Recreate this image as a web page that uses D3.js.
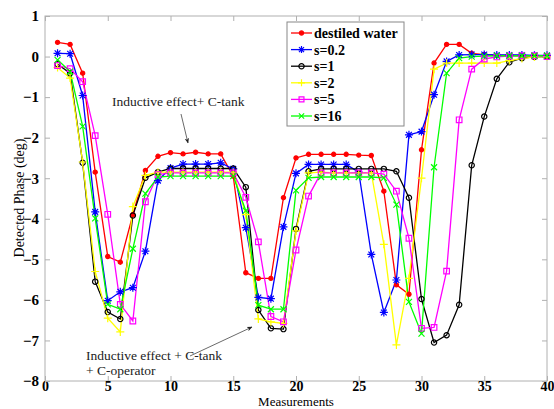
<!DOCTYPE html>
<html><head><meta charset="utf-8">
<script src="https://cdn.jsdelivr.net/npm/d3@7"></script>
<style>body{margin:0;background:#fff}svg{display:block}</style>
</head><body>
<svg id="c" width="554" height="409"></svg>
<script>
const measurements = d3.range(1, 41);
const seriesNames = ["destiled water","s=0.2","s=1","s=2","s=5","s=16"];
const red = [0.35,0.3,-0.41,-2.85,-4.93,-5.07,-3.9,-2.81,-2.46,-2.37,-2.40,-2.36,-2.40,-2.40,-2.95,-5.33,-5.47,-5.47,-3.48,-2.50,-2.41,-2.41,-2.41,-2.41,-2.43,-2.44,-3.32,-5.63,-5.86,-2.3,-0.16,0.30,0.30,0.08,0.05,0.03,0.03,0.02,0.02,0.0];
const blue = [0.08,0.07,-0.96,-3.83,-6.02,-5.80,-5.70,-4.80,-3.06,-2.75,-2.65,-2.65,-2.65,-2.62,-2.77,-4.22,-5.94,-5.97,-4.20,-2.88,-2.66,-2.66,-2.66,-2.66,-2.85,-4.88,-6.31,-5.51,-1.93,-1.85,-0.94,-0.12,0.04,0.05,0.05,0.04,0.04,0.04,0.03,0.03];
const black = [-0.19,-0.41,-2.62,-5.55,-6.30,-6.47,-3.92,-2.99,-2.85,-2.76,-2.76,-2.76,-2.76,-2.76,-2.76,-3.22,-6.25,-6.70,-6.72,-4.25,-2.83,-2.77,-2.77,-2.77,-2.77,-2.77,-2.77,-2.83,-3.48,-5.98,-7.05,-6.87,-6.12,-2.68,-1.48,-0.55,-0.14,-0.04,-0.01,0.0];
const yellow = [-0.27,-0.53,-2.6,-5.30,-6.45,-6.79,-3.70,-2.93,-2.85,-2.85,-2.85,-2.85,-2.85,-2.85,-2.85,-3.9,-6.47,-6.54,-6.58,-4.3,-2.87,-2.85,-2.87,-2.87,-2.87,-2.87,-4.63,-7.11,-5.47,-3.0,-0.31,-0.16,-0.16,-0.16,-0.16,-0.16,-0.10,-0.05,-0.01,0.0];
const magenta = [-0.22,-0.30,-0.62,-1.95,-3.89,-6.11,-6.52,-3.58,-2.91,-2.87,-2.87,-2.87,-2.87,-2.87,-2.87,-3.47,-4.57,-6.41,-6.54,-4.77,-3.44,-2.87,-2.87,-2.87,-2.87,-2.87,-2.90,-3.32,-4.48,-6.70,-6.68,-5.29,-1.56,-0.31,-0.06,-0.01,0.01,0.02,0.02,0.0];
const green = [-0.08,-0.37,-1.72,-3.99,-6.11,-6.23,-4.74,-3.38,-2.97,-2.95,-2.95,-2.95,-2.95,-2.95,-2.95,-3.8,-6.13,-6.23,-6.23,-3.30,-2.99,-2.97,-2.97,-2.97,-2.97,-2.97,-2.99,-3.65,-6.05,-6.83,-2.73,-0.41,-0.04,0.0,0.01,0.02,0.02,0.02,0.02,0.02];
const xTicks = [0,5,10,15,20,25,30,35,40];
const yTicks = [-8,-7,-6,-5,-4,-3,-2,-1,0,1];
const colors = ["#ff0000","#0000ff","#000000","#ffff00","#ff00ff","#00ff00"];
const markers = ["dot","star","circle","plus","square","cross"];
const values = [red, blue, black, yellow, magenta, green];

const svg = d3.select("#c");
const x = d3.scaleLinear().domain([0,40]).range([45,547]);
const y = d3.scaleLinear().domain([-8,1]).range([381,16]);
const serif = "'Liberation Serif','Times New Roman',serif";

// frame
svg.append("rect").attr("x",45).attr("y",16).attr("width",502).attr("height",365)
  .attr("fill","#fff").attr("stroke","#b0b0b0").attr("stroke-width",1);

// axes
const gx = svg.append("g").attr("transform","translate(0,381)")
  .call(d3.axisBottom(x).tickValues(xTicks).tickSize(-5));
const gxt = svg.append("g").attr("transform","translate(0,16)")
  .call(d3.axisTop(x).tickValues(xTicks).tickSize(-5).tickFormat(""));
const gy = svg.append("g").attr("transform","translate(45,0)")
  .call(d3.axisLeft(y).tickValues(yTicks).tickSize(-5).tickPadding(6).tickFormat(d=>d<0?"\u2212"+(-d):d));
const gyr = svg.append("g").attr("transform","translate(547,0)")
  .call(d3.axisRight(y).tickValues(yTicks).tickSize(-5).tickFormat(""));
[gx,gxt,gy,gyr].forEach(g=>{
  g.select(".domain").remove();
  g.selectAll(".tick line").attr("stroke","#b0b0b0");
  g.selectAll("text").attr("font-family",serif).attr("font-weight","bold").attr("font-size",15).attr("fill","#000");
});
gx.selectAll("text").attr("font-size",14).attr("y",10).attr("dy","0");

svg.append("text").attr("x",296).attr("y",406).attr("text-anchor","middle")
  .attr("font-family",serif).attr("font-size",13).text("Measurements");
svg.append("text").attr("transform","translate(24,198) rotate(-90)").attr("text-anchor","middle")
  .attr("font-family",serif).attr("font-size",14).text("Detected Phase (deg)");

function markerPath(type, s){
  const h = s/2;
  switch(type){
    case "star": { const d = h*0.72; return `M${-h},0L${h},0M0,${-h}L0,${h}M${-d},${-d}L${d},${d}M${-d},${d}L${d},${-d}`; }
    case "plus": return `M${-h},0L${h},0M0,${-h}L0,${h}`;
    case "cross": { const d=h*0.75; return `M${-d},${-d}L${d},${d}M${-d},${d}L${d},${-d}`; }
    case "square": { const d=h*0.7; return `M${-d},${-d}H${d}V${d}H${-d}Z`; }
    case "circle": return d3.symbol(d3.symbolCircle, 22)();
    case "dot": return d3.symbol(d3.symbolCircle, 14)();
  }
}
function drawMarker(g, type, color, cx, cy, s){
  const p = g.append("path").attr("transform",`translate(${cx},${cy})`).attr("d",markerPath(type,s))
    .attr("stroke",color).attr("stroke-width",1.2);
  if(type==="dot") p.attr("fill",color); else p.attr("fill","none");
}

const line = d3.line().x((d,i)=>x(measurements[i])).y(d=>y(d));
const plot = svg.append("g");
values.forEach((vals,k)=>{
  plot.append("path").attr("d",line(vals)).attr("fill","none")
    .attr("stroke",colors[k]).attr("stroke-width",1.3);
});
values.forEach((vals,k)=>{
  vals.forEach((v,i)=>drawMarker(plot, markers[k], colors[k], x(measurements[i]), y(v), 8));
});

// annotations
const ann = svg.append("g").attr("font-family",serif).attr("font-size",13.5).attr("fill","#222");
ann.append("text").attr("x",112).attr("y",106).text("Inductive effect+ C-tank");
ann.append("text").attr("x",86).attr("y",360).text("Inductive effect + C-tank");
ann.append("text").attr("x",86).attr("y",375).text("+ C-operator");
svg.append("defs").append("marker").attr("id","ah").attr("viewBox","0 0 10 10").attr("refX",9).attr("refY",5)
  .attr("markerWidth",7).attr("markerHeight",7).attr("orient","auto")
  .append("path").attr("d","M0,1L10,5L0,9L3,5Z").attr("fill","#222");
svg.append("line").attr("x1",181).attr("y1",114).attr("x2",188).attr("y2",143)
  .attr("stroke","#444").attr("stroke-width",0.8).attr("marker-end","url(#ah)");
svg.append("line").attr("x1",190).attr("y1",356).attr("x2",252).attr("y2",327)
  .attr("stroke","#444").attr("stroke-width",0.8).attr("marker-end","url(#ah)");

// legend
const lg = svg.append("g");
lg.append("rect").attr("x",287).attr("y",22).attr("width",117).attr("height",104)
  .attr("fill","#fff").attr("stroke","#888").attr("stroke-width",1);
seriesNames.forEach((n,k)=>{
  const yy = 33 + k*16.6;
  lg.append("line").attr("x1",291).attr("x2",312).attr("y1",yy).attr("y2",yy)
    .attr("stroke",colors[k]).attr("stroke-width",1.3);
  drawMarker(lg, markers[k], colors[k], 301.5, yy, 7);
  lg.append("text").attr("x",314).attr("y",yy+5).attr("font-family",serif).attr("font-weight","bold")
    .attr("font-size",14).text(n);
});
</script>
</body></html>
